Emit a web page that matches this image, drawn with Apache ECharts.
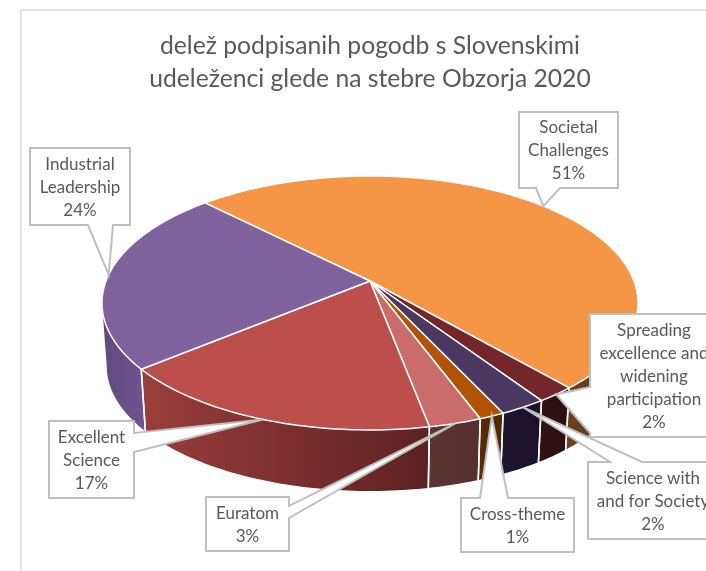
<!DOCTYPE html>
<html><head><meta charset="utf-8">
<style>html,body{margin:0;padding:0;background:#fff;overflow:hidden}#c{width:706px;height:571px}</style>
<script src="https://cdn.jsdelivr.net/npm/echarts@6/dist/echarts.min.js"></script>
</head><body><div id="c"></div>
<script>
// ---- data
const categories = ['Societal\nChallenges','Spreading\nexcellence and\nwidening\nparticipation','Science with\nand for Society','Cross-theme','Euratom','Excellent\nScience','Industrial\nLeadership'];
const values = [51, 2, 2.4, 1.3, 2.7, 17, 23.6];
const titleLines = ['delež podpisanih pogodb s Slovenskimi','udeleženci glede na stebre Obzorja 2020'];

// ---- styles
const topColors = ['#F49645','#74272A','#4B3860','#B25204','#CA6C6B','#BC4F4C','#7F619C'];
const wallColors = [['#6b3f1e','#5f3a1b'],['#331213','#2c0f10'],['#1f1630','#1b1328'],['#5a2c02','#4f2700'],['#5a3534','#563030'],['#9a3e3b','#5c2121'],['#5f4a7e','#6d5590']];
const textColor = '#595959', boxColor = '#BFBFBF';

// ---- perspective layout of the disc
const G = {cx:370, cy:281, A:264, B:123.2, k:0.173, startDeg:-44.6, s:0.982, vy:3820, frontFrom:100, frontTo:260};
function project(deg){
  const t = deg*Math.PI/180, u = Math.sin(t), v = -Math.cos(t), w = 1-G.k*v;
  return [G.cx+G.A*u/w, G.cy+G.B*v/w];
}
function lower(p){ return [G.cx+G.s*(p[0]-G.cx), G.vy+G.s*(p[1]-G.vy)]; }
const total = values.reduce((a,b)=>a+b,0);
function sliceAngles(i){
  let a = G.startDeg;
  for(let j=0;j<i;j++) a += values[j]/total*360;
  return [a, a+values[i]/total*360];
}
function rim(a0,a1){
  const n = Math.max(2,Math.ceil(a1-a0)), pts=[];
  for(let j=0;j<=n;j++) pts.push(project(a0+(a1-a0)*j/n));
  return pts;
}
// callout boxes: box rect, side holding the pointer, pointer base span
const callouts = [
  {box:[519,112,618,188],side:'bottom',base:[536,560]},
  {box:[590,314,718,437],side:'left',base:[387,433]},
  {box:[588,462,718,539],side:'top',base:[610,642]},
  {box:[461,498,574,552],side:'top',base:[480,508]},
  {box:[206,497,289,551],side:'right',base:[506,518]},
  {box:[49,421,134,498],side:'right',base:[433,452]},
  {box:[30,148,130,225],side:'bottom',base:[88,113]}
];
function calloutPoly(c,tip){
  const [x0,y0,x1,y1]=c.box,[a,b]=c.base;
  if(c.side==='top')    return [[x0,y0],[a,y0],tip,[b,y0],[x1,y0],[x1,y1],[x0,y1]];
  if(c.side==='bottom') return [[x0,y0],[x1,y0],[x1,y1],[b,y1],tip,[a,y1],[x0,y1]];
  if(c.side==='right')  return [[x0,y0],[x1,y0],[x1,a],tip,[x1,b],[x1,y1],[x0,y1]];
  return [[x0,y0],[x1,y0],[x1,y1],[x0,y1],[x0,b],tip,[x0,a]];
}
const seriesData = values.map((v,i)=>[i,v]);

const chart = echarts.init(document.getElementById('c'),null,{renderer:'canvas'});
chart.setOption({
  animation:false,
  backgroundColor:'#fff',
  title:{text:titleLines.join('\n'),left:370,top:30,padding:0,textAlign:'center',
    textStyle:{fontFamily:'Lato',fontWeight:'normal',fontSize:24.7,lineHeight:33,color:textColor}},
  graphic:[{type:'polyline',silent:true,z:0,shape:{points:[[21,571],[21,10],[706,10]]},style:{stroke:'#D9D9D9',lineWidth:1.5,fill:null}}],
  series:[
    {type:'custom',coordinateSystem:'none',z:1,silent:true,data:seriesData,
     renderItem(params,api){
       const i=api.value(0),[a0,a1]=sliceAngles(i);
       const from=Math.max(a0,G.frontFrom),to=Math.min(a1,G.frontTo);
       const top=rim(from,to),bot=top.map(lower).reverse();
       const children=[{type:'polygon',shape:{points:top.concat(bot)},
         style:{fill:new echarts.graphic.LinearGradient(0,0,1,0,[{offset:0,color:wallColors[i][0]},{offset:1,color:wallColors[i][1]}])}}];
       const edges=[];
       if(from===a0) edges.push(top[0]);
       if(to===a1) edges.push(top[top.length-1]);
       edges.forEach(p=>{const q=lower(p);children.push({type:'line',z2:5,shape:{x1:p[0],y1:p[1],x2:q[0],y2:q[1]},style:{stroke:'#fff',lineWidth:1.5}});});
       return {type:'group',children};
     }},
    {type:'custom',coordinateSystem:'none',z:2,silent:true,data:seriesData,
     renderItem(params,api){
       const i=api.value(0),[a0,a1]=sliceAngles(i);
       return {type:'polygon',shape:{points:[[G.cx,G.cy]].concat(rim(a0,a1))},
         style:{fill:topColors[i],stroke:'#fff',lineWidth:1.5,lineJoin:'round'}};
     }},
    {type:'custom',coordinateSystem:'none',z:3,silent:true,data:seriesData,
     renderItem(params,api){
       const i=api.value(0),v=api.value(1),[a0,a1]=sliceAngles(i),c=callouts[i];
       const tip=project((a0+a1)/2);
       return {type:'group',children:[
         {type:'polygon',shape:{points:calloutPoly(c,tip)},style:{fill:'#fff',stroke:boxColor,lineWidth:2}},
         {type:'text',style:{text:categories[i]+'\n'+Math.round(v)+'%',x:(c.box[0]+c.box[2])/2,y:(c.box[1]+c.box[3])/2+1,
            align:'center',verticalAlign:'middle',fill:textColor,fontFamily:'Lato',fontSize:17,lineHeight:23}}
       ]};
     }}
  ]
});
</script></body></html>
